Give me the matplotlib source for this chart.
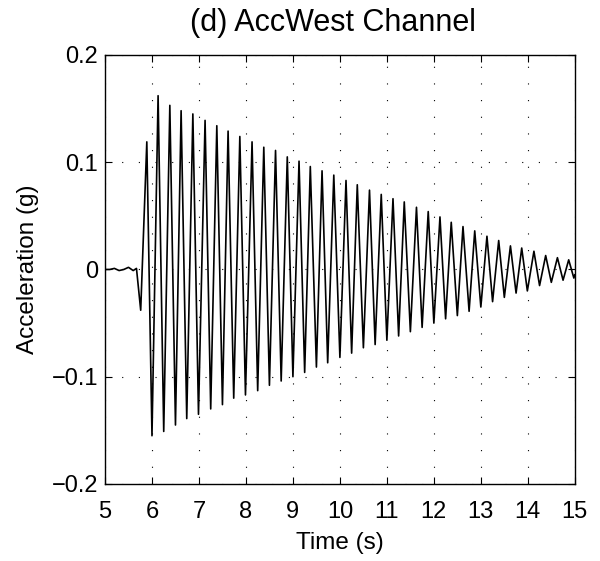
import matplotlib.pyplot as plt

# --- Data (read off the reference: extrema of the recorded signal) ---
# quiet pre-release segment
pre_t = [5.00, 5.10, 5.20, 5.30, 5.40, 5.50, 5.60, 5.67]
pre_a = [0.000, 0.000, 0.001, -0.001, 0.000, 0.002, -0.001, 0.001]

# alternating troughs / peaks after release
ext_t = [5.76, 5.89, 6.00, 6.13, 6.25, 6.38, 6.50, 6.62, 6.74, 6.87,
         6.99, 7.13, 7.25, 7.38, 7.50, 7.62, 7.74, 7.87, 7.99, 8.13,
         8.25, 8.38, 8.50, 8.63, 8.75, 8.88, 9.00, 9.13, 9.25, 9.37,
         9.50, 9.62, 9.74, 9.87, 10.00, 10.13, 10.25, 10.37, 10.50, 10.63,
         10.75, 10.88, 11.00, 11.13, 11.25, 11.37, 11.50, 11.63, 11.75, 11.88,
         12.00, 12.13, 12.25, 12.37, 12.50, 12.62, 12.75, 12.87, 13.00, 13.13,
         13.25, 13.38, 13.50, 13.63, 13.75, 13.87, 13.99, 14.13, 14.25, 14.38,
         14.50, 14.63, 14.75, 14.87, 14.98, 15.00]
ext_a = [-0.038, 0.119, -0.155, 0.162, -0.151, 0.153, -0.145, 0.148, -0.139, 0.145,
         -0.135, 0.139, -0.130, 0.134, -0.126, 0.129, -0.120, 0.124, -0.117, 0.119,
         -0.113, 0.114, -0.108, 0.111, -0.104, 0.105, -0.100, 0.101, -0.096, 0.096,
         -0.091, 0.092, -0.087, 0.088, -0.082, 0.083, -0.078, 0.079, -0.073, 0.074,
         -0.070, 0.070, -0.066, 0.066, -0.062, 0.063, -0.058, 0.058, -0.054, 0.054,
         -0.050, 0.049, -0.046, 0.044, -0.043, 0.040, -0.039, 0.036, -0.035, 0.031,
         -0.030, 0.027, -0.026, 0.022, -0.022, 0.020, -0.020, 0.017, -0.015, 0.013,
         -0.012, 0.011, -0.010, 0.009, -0.008, -0.005]

time = pre_t + ext_t
accel = pre_a + ext_a

xticks = list(range(5, 16))
yticks = [-0.2, -0.1, 0, 0.1, 0.2]
ytick_labels = ['\u22120.2', '\u22120.1', '0', '0.1', '0.2']

plt.rcParams['font.family'] = ['Liberation Sans', 'DejaVu Sans']

fig = plt.figure(figsize=(6.0, 5.61), dpi=100)
ax = fig.add_axes([0.175, 0.1373, 0.783, 0.7647])

ax.plot(time, accel, color='black', linewidth=1.2)

ax.set_xlim(5, 15)
ax.set_ylim(-0.2, 0.2)
ax.set_xticks(xticks)
ax.set_yticks(yticks)
ax.set_yticklabels(ytick_labels)

ax.tick_params(direction='in', length=5, width=0.8, top=True, right=True,
               labelsize=17)
ax.tick_params(axis='x', pad=12)
ax.tick_params(axis='y', pad=5)
ax.grid(True, color='black', linestyle=(0, (1, 14)), linewidth=0.8)
for s in ax.spines.values():
    s.set_linewidth(1.0)

ax.set_xlabel('Time (s)', fontsize=17.5, labelpad=7)
ax.set_ylabel('Acceleration (g)', fontsize=17.5, labelpad=9)
ax.set_title('(d) AccWest Channel', fontsize=22, pad=17, x=0.486)

plt.savefig('out.png')
